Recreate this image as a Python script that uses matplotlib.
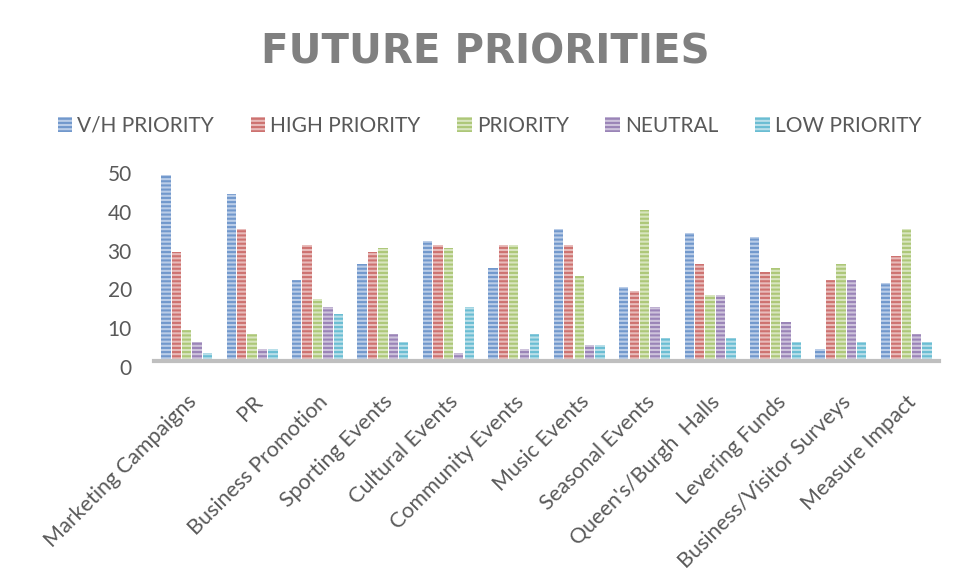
import numpy as np
import matplotlib
matplotlib.use("Agg")
import matplotlib.pyplot as plt
from matplotlib.patches import Patch
from matplotlib.transforms import ScaledTranslation

categories = ["Marketing Campaigns", "PR", "Business Promotion", "Sporting Events",
              "Cultural Events", "Community Events", "Music Events", "Seasonal Events",
              "Queen's/Burgh  Halls", "Levering Funds", "Business/Visitor Surveys",
              "Measure Impact"]
series_names = ["V/H PRIORITY", "HIGH PRIORITY", "PRIORITY", "NEUTRAL", "LOW PRIORITY"]

vh_priority = [48, 43, 21, 25, 31, 24, 34, 19, 33, 32, 3, 20]
high_priority = [28, 34, 30, 28, 30, 30, 30, 18, 25, 23, 21, 27]
priority = [8, 7, 16, 29, 29, 30, 22, 39, 17, 24, 25, 34]
neutral = [5, 3, 14, 7, 2, 3, 4, 14, 17, 10, 21, 7]
low_priority = [2, 3, 12, 5, 14, 7, 4, 6, 6, 5, 5, 5]

y_ticks = [0, 10, 20, 30, 40, 50]

# (light fill, darker stripe)
colours = [("#BACDE8", "#7198CC"),
           ("#E8BBBA", "#CD7270"),
           ("#D8E5BF", "#ADC778"),
           ("#CEC3DC", "#9A84B7"),
           ("#B9DFE9", "#6ABDD3")]

plt.rcParams["font.family"] = ["Lato", "DejaVu Sans"]
plt.rcParams["hatch.linewidth"] = 1.5
txt = "#595959"

fig = plt.figure(figsize=(9.56, 5.8), dpi=100)
ax = fig.add_axes([154 / 956, (580 - 361) / 580, 785 / 956, 194 / 580])

x = np.arange(len(categories))
slot = 0.159
data = [vh_priority, high_priority, priority, neutral, low_priority]
for k, vals in enumerate(data):
    light, dark = colours[k]
    ax.bar(x + (k - 2) * slot, vals, width=slot - 0.016, facecolor=light,
           edgecolor=dark, hatch="----", linewidth=0, zorder=2)

ax.set_xlim(-0.5, len(categories) - 0.5)
ax.set_ylim(0, 50)
ax.set_yticks(y_ticks)
ax.set_xticks(x)
ax.set_xticklabels(categories, rotation=45, ha="right", va="top",
                   rotation_mode="anchor", fontsize=15.5, color=txt)
ax.tick_params(axis="x", length=0, pad=22)
ax.tick_params(axis="y", length=0, pad=16, labelsize=15, labelcolor=txt)
shift = ScaledTranslation(0, -0.06, fig.dpi_scale_trans)
for lab in ax.get_yticklabels():
    lab.set_transform(lab.get_transform() + shift)

for s in ["top", "left", "right"]:
    ax.spines[s].set_visible(False)
ax.spines["bottom"].set_color("#BFBFBF")
ax.spines["bottom"].set_linewidth(3)
ax.spines["bottom"].set_zorder(3)

fig.text(0.508, 1 - 52 / 580, "FUTURE PRIORITIES", ha="center", va="center",
         fontsize=29, fontweight="bold", color="#808080",
         family=["DejaVu Sans"])

handles = [Patch(facecolor=c[0], edgecolor=c[1], hatch="----", linewidth=0)
           for c in colours]
fig.legend(handles, series_names, loc="center", bbox_to_anchor=(0.512, 1 - 126 / 580),
           ncol=5, frameon=False, fontsize=15, labelcolor=txt,
           handlelength=0.7, handleheight=0.7, handletextpad=0.25,
           columnspacing=1.75)

fig.savefig("out.png", dpi=100)
